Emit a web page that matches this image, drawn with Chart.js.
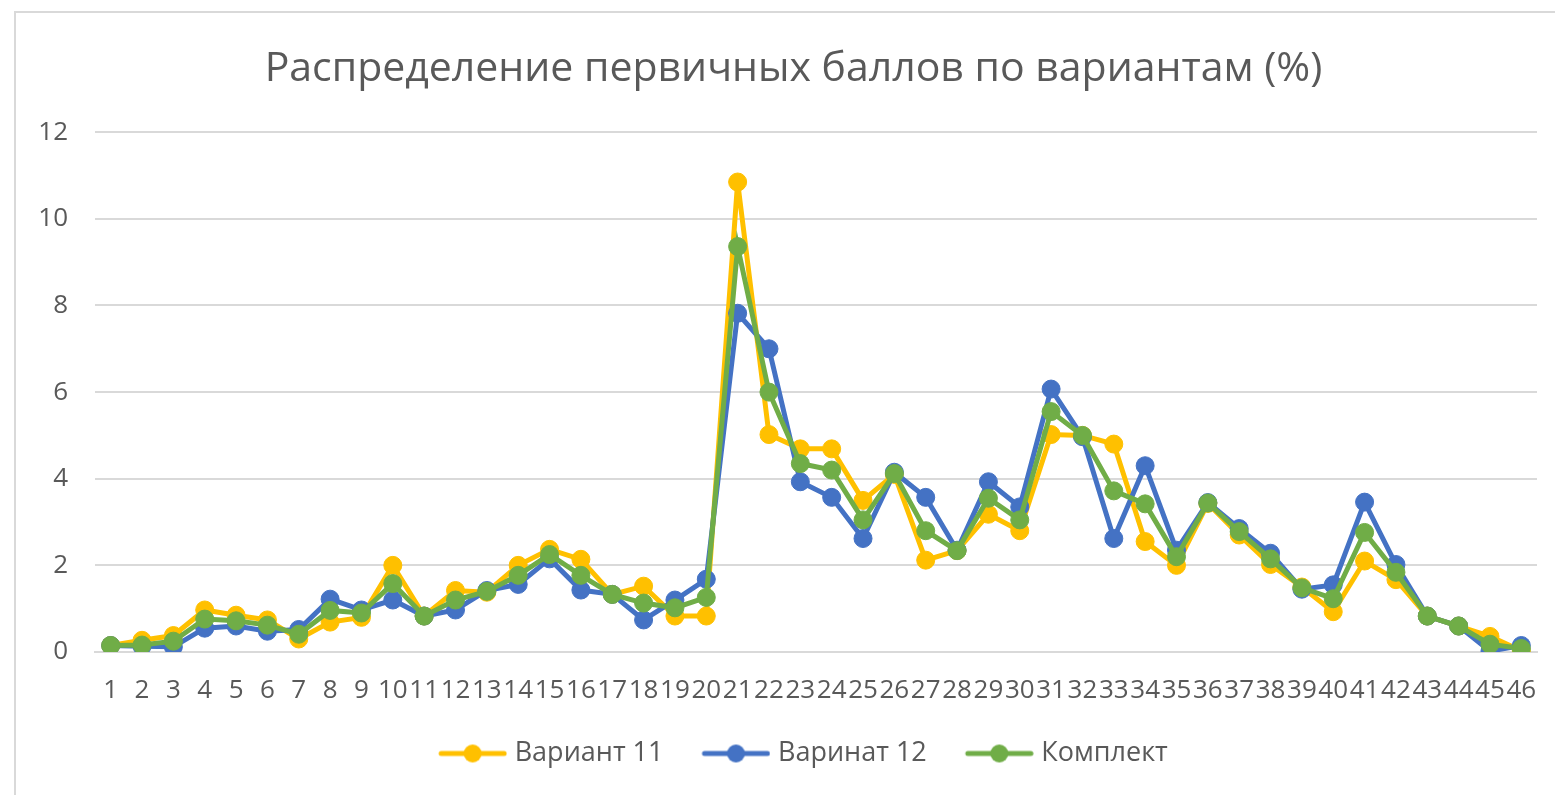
<!DOCTYPE html>
<html>
<head>
<meta charset="utf-8">
<script src="https://cdn.jsdelivr.net/npm/chart.js@4"></script>
<style>
    html, body { margin: 0; padding: 0; background: #fff; overflow: hidden; }
    #frame { position: absolute; left: 14px; top: 11px; width: 1700px; height: 900px; border-left: 2px solid #d9d9d9; border-top: 2px solid #d9d9d9; }
    /* холст шире окна на 50px: правый пустой отступ нужен, чтобы заголовок и легенда стояли по центру, как в Excel */
    #wrap { position: absolute; left: 0; top: 0; width: 1605px; height: 795px; }
</style>
</head>
<body>
<div id="frame"></div>
<div id="wrap"><canvas id="scoresChart"></canvas></div>
<script>
// Номера первичных баллов
const points = ['1', '2', '3', '4', '5', '6', '7', '8', '9', '10',
    '11', '12', '13', '14', '15', '16', '17', '18', '19', '20',
    '21', '22', '23', '24', '25', '26', '27', '28', '29', '30',
    '31', '32', '33', '34', '35', '36', '37', '38', '39', '40',
    '41', '42', '43', '44', '45', '46'];

const variant11 = [0.15, 0.27, 0.38, 0.97, 0.85, 0.74, 0.30, 0.69, 0.80, 2.00,
    0.83, 1.42, 1.38, 2.00, 2.37, 2.14, 1.33, 1.52, 0.83, 0.83,
    10.85, 5.02, 4.69, 4.69, 3.50, 4.10, 2.12, 2.34, 3.18, 2.80,
    5.02, 5.00, 4.80, 2.55, 2.00, 3.43, 2.70, 2.02, 1.50, 0.93,
    2.10, 1.67, 0.83, 0.60, 0.36, 0.03];
const variant12 = [0.15, 0.13, 0.12, 0.55, 0.60, 0.48, 0.52, 1.22, 0.97, 1.20,
    0.83, 0.97, 1.42, 1.56, 2.15, 1.43, 1.33, 0.74, 1.20, 1.68,
    7.82, 7.00, 3.93, 3.57, 2.62, 4.15, 3.57, 2.35, 3.93, 3.35,
    6.07, 4.97, 2.62, 4.30, 2.35, 3.45, 2.85, 2.28, 1.45, 1.55,
    3.46, 2.02, 0.83, 0.60, 0.02, 0.15];
const komplekt = [0.15, 0.16, 0.25, 0.76, 0.72, 0.62, 0.41, 0.96, 0.90, 1.58,
    0.83, 1.20, 1.40, 1.77, 2.25, 1.77, 1.33, 1.13, 1.02, 1.26,
    9.36, 6.00, 4.35, 4.20, 3.05, 4.12, 2.80, 2.34, 3.55, 3.05,
    5.55, 5.00, 3.72, 3.42, 2.20, 3.44, 2.78, 2.15, 1.48, 1.23,
    2.76, 1.84, 0.83, 0.60, 0.18, 0.08];

const textColor = '#595959';
const gridColor = '#d9d9d9';
const fontFamily = '"Open Sans", "Noto Sans", sans-serif';

// Значок легенды: линия с маркером, как в Excel.
// Холст шире поля легенды на 6px с каждой стороны, чтобы текст стоял ближе.
const iconBox = 82;
function legendIcon(color) {
    const c = document.createElement('canvas');
    c.width = iconBox + 12;
    c.height = 22;
    const g = c.getContext('2d');
    g.strokeStyle = color;
    g.lineWidth = 5;
    g.lineCap = 'round';
    g.beginPath();
    g.moveTo(28, 11);
    g.lineTo(c.width - 3, 11);
    g.stroke();
    g.fillStyle = color;
    g.beginPath();
    g.arc((28 + c.width - 3) / 2, 11, 9, 0, Math.PI * 2);
    g.fill();
    return c;
}

function series(label, data, color, order) {
    return {
        label: label,
        data: data,
        borderColor: color,
        backgroundColor: color,
        borderWidth: 5,
        pointRadius: 9,
        pointHoverRadius: 9,
        pointBorderWidth: 1,
        pointBackgroundColor: color,
        pointBorderColor: color,
        pointStyle: 'circle',
        legendIcon: legendIcon(color),
        tension: 0,
        fill: false,
        order: order
    };
}

const datasets = [
    series('Вариант 11', variant11, '#FFC000', 3),
    series('Варинат 12', variant12, '#4472C4', 2),
    series('Комплект', komplekt, '#70AD47', 1)
];

const ctx = document.getElementById('scoresChart').getContext('2d');
const scoresChart = new Chart(ctx, {
    type: 'line',
    data: {
        labels: points,
        datasets: datasets
    },
    options: {
        responsive: true,
        maintainAspectRatio: false,
        animation: false,
        layout: {
            padding: { left: 0, right: 18, top: 0, bottom: 18 }
        },
        plugins: {
            tooltip: { enabled: false },
            title: {
                display: true,
                text: 'Распределение первичных баллов по вариантам (%)',
                color: textColor,
                font: { family: fontFamily, size: 41, weight: 'normal' },
                padding: { top: 45, bottom: 38 }
            },
            legend: {
                position: 'bottom',
                labels: {
                    color: textColor,
                    font: { family: fontFamily, size: 27 },
                    usePointStyle: true,
                    pointStyleWidth: iconBox,
                    padding: 19,
                    sort: (a, b) => a.datasetIndex - b.datasetIndex,
                    generateLabels: function (chart) {
                        const items = Chart.defaults.plugins.legend.labels.generateLabels(chart);
                        items.forEach(it => {
                            it.pointStyle = chart.data.datasets[it.datasetIndex].legendIcon;
                            it.lineWidth = 0;
                        });
                        return items;
                    }
                }
            }
        },
        scales: {
            x: {
                offset: true,
                grid: { display: false, drawTicks: false, offset: true },
                border: { display: true, color: gridColor, width: 2 },
                ticks: {
                    color: textColor,
                    font: { family: fontFamily, size: 26 },
                    autoSkip: false,
                    maxRotation: 0,
                    minRotation: 0,
                    padding: 23
                },
                afterFit: function (scale) { scale.height = 69; }
            },
            y: {
                min: 0,
                max: 12,
                grid: { color: gridColor, lineWidth: 2, drawTicks: false },
                border: { display: false },
                ticks: {
                    stepSize: 2,
                    color: textColor,
                    font: { family: fontFamily, size: 26 },
                    padding: 27
                },
                afterFit: function (scale) { scale.width = 95; }
            },
            // пустая правая ось, только место справа от области построения
            spacer: {
                type: 'linear',
                position: 'right',
                grid: { display: false, drawTicks: false },
                border: { display: false },
                ticks: { display: false },
                afterFit: function (scale) { scale.width = 50; }
            }
        }
    }
});
</script>
</body>
</html>
